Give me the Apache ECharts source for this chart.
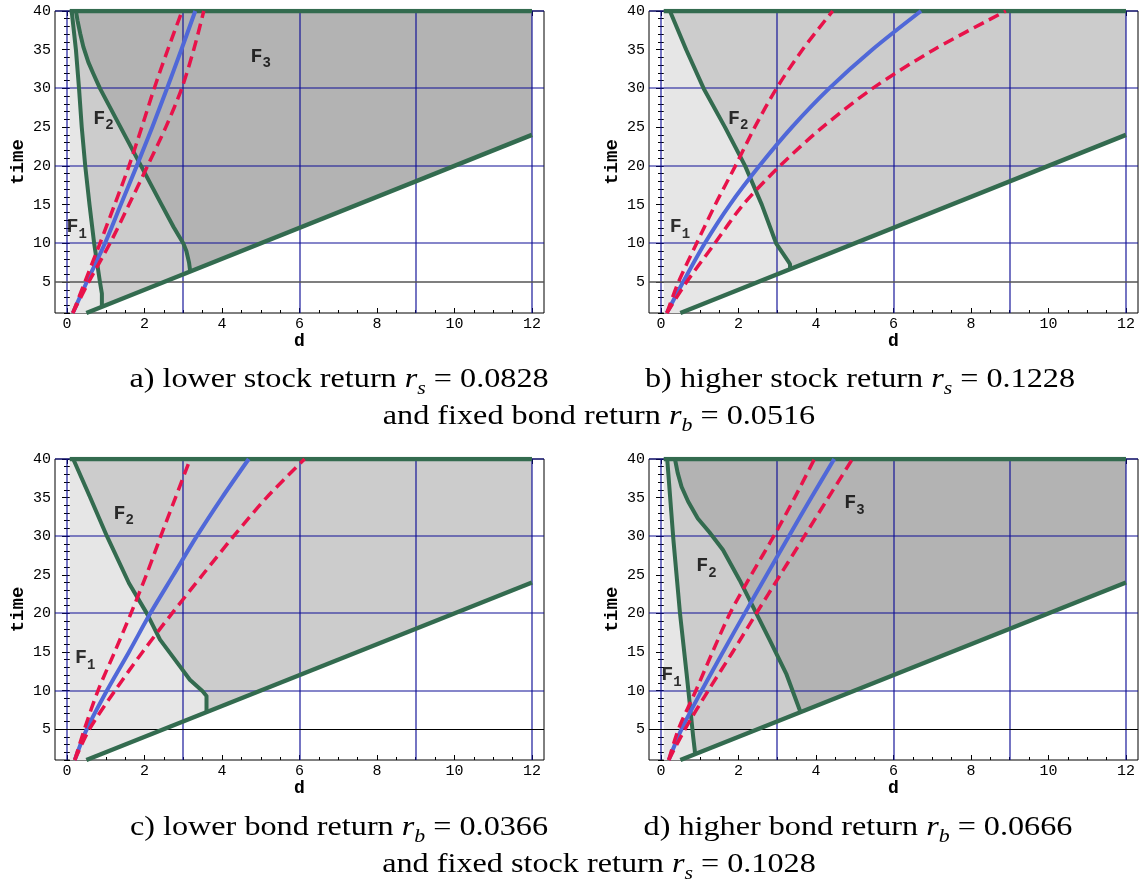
<!DOCTYPE html>
<html>
<head>
<meta charset="utf-8">
<script src="https://cdn.jsdelivr.net/npm/echarts@6/dist/echarts.min.js"></script>
<style>
html,body{margin:0;padding:0;background:#fff;}
#chart{width:1147px;height:882px;}
</style>
</head>
<body>
<div id="chart"></div>
<script>
// ---------------- data ----------------
const X_MIN = -0.31, X_MAX = 12.31, Y_MIN = 1, Y_MAX = 40;
const xTickLabels = [0, 2, 4, 6, 8, 10, 12];
const yTickLabels = [5, 10, 15, 20, 25, 30, 35, 40];
const xMinorTicks = [0,0.5,1,1.5,2,2.5,3,3.5,4,4.5,5,5.5,6,6.5,7,7.5,8,8.5,9,9.5,10,10.5,11,11.5,12];
const yMinorTicks = [1,2,3,4,5,6,7,8,9,10,11,12,13,14,15,16,17,18,19,20,21,22,23,24,25,26,27,28,29,30,31,32,33,34,35,36,37,38,39,40];
const xGridValues = [0, 3, 6, 9, 12];
const yGridValues = [10, 20, 30, 40];
const yMarkLow = 5;

// feasible domain: lower line time = 2d, top at 40, right edge at d = 12
const lowerLine = [[0.5, 1], [12, 24]];
const topLine = [[0.07, 40], [12, 40]];
const domain = [[0.07, 1], [0.07, 40], [12, 40], [12, 24], [0.5, 1]];
const rightCorners = [[12, 40], [12, 24]];

// panel a) rs = 0.0828
const aF12 = [[0.9,1.8],[0.9,3.5],[0.85,5],[0.79,7],[0.7,10],[0.58,15],[0.47,20],[0.38,25],[0.31,30],[0.23,35],[0.12,40]];
const aF23 = [[3.18,6.36],[3.15,7.5],[3.08,9],[3.0,10],[2.88,11],[2.75,12.1],[2.44,15],[1.91,20],[1.38,25],[0.85,30],[0.68,31.9],[0.55,33.4],[0.42,35.4],[0.34,37.1],[0.27,38.8],[0.23,40]];
const aBlue = [[0.15,1],[0.51,5],[0.98,10],[1.39,15],[1.8,20],[2.2,25],[2.58,30],[2.95,35],[3.31,40]];
const aRedL = [[0.15,1],[0.46,5],[0.85,10],[1.23,15],[1.6,20],[1.93,25],[2.25,30],[2.6,35],[2.97,40]];
const aRedR = [[0.15,1],[0.56,5],[1.11,10],[1.6,15],[2.08,20],[2.55,25],[2.96,30],[3.27,35],[3.53,40]];
const aLabels = [['3',5.0,34.1],['2',0.94,26.1],['1',0.25,12.1]];

// panel b) rs = 0.1228
const bF12 = [[3.33,6.66],[3.33,7.3],[3.28,7.7],[2.97,10],[2.6,15],[2.17,20],[1.65,25],[1.1,30],[0.65,35],[0.23,40]];
const bBlue = [[0.15,1],[0.57,5],[1.13,10],[1.78,15],[2.54,20],[3.38,25],[4.34,30],[5.45,35],[6.71,40]];
const bRedL = [[0.15,1],[0.45,5],[0.92,10],[1.4,15],[1.92,20],[2.42,25],[2.98,30],[3.65,35],[4.43,40]];
const bRedR = [[0.15,1],[0.66,5],[1.39,10],[2.12,15],[3.07,20],[4.17,25],[5.46,30],[7.04,35],[8.9,40]];
const bLabels = [['2',1.99,26.1],['1',0.49,12.1]];

// panel c) rb = 0.0366
const cF12 = [[3.6,7.2],[3.6,9.3],[3.5,9.9],[3.17,11.4],[2.92,13.1],[2.4,16.6],[2.06,20],[1.6,23.9],[1.03,30],[0.59,35.1],[0.16,40]];
const cBlue = [[0.2,1],[0.51,5],[1.03,10],[1.6,15],[2.15,20],[2.75,25],[3.35,30],[4.0,35],[4.69,40]];
const cRedL = [[0.2,1],[0.45,5],[0.8,10],[1.23,15],[1.65,20],[2.05,25],[2.42,30],[2.8,35],[3.18,40]];
const cRedR = [[0.2,1],[0.58,5],[1.24,10],[1.95,15],[2.71,20],[3.5,25],[4.3,30],[5.15,35],[6.13,40]];
const cLabels = [['2',1.46,32.9],['1',0.47,14.2]];

// panel d) rb = 0.0666
const dF12 = [[0.88,1.76],[0.87,2.3],[0.83,4],[0.75,7.9],[0.66,12.2],[0.49,20],[0.32,29.5],[0.16,40]];
const dF23 = [[3.6,7.2],[3.57,7.6],[3.23,12.2],[2.8,16.6],[2.46,20],[2.03,24.3],[1.6,28.2],[1.25,30.5],[0.95,32.3],[0.7,34.5],[0.53,36.4],[0.43,38.2],[0.36,40]];
const dBlue = [[0.2,1],[0.53,5],[1.05,10],[1.6,15],[2.16,20],[2.73,25],[3.3,30],[3.88,35],[4.47,40]];
const dRedL = [[0.2,1],[0.45,5],[0.9,10],[1.33,15],[1.78,20],[2.33,25],[2.91,30],[3.45,35],[3.96,40]];
const dRedR = [[0.2,1],[0.62,5],[1.22,10],[1.85,15],[2.46,20],[3.08,25],[3.7,30],[4.32,35],[4.94,40]];
const dLabels = [['3',4.99,34.3],['2',1.17,26.1],['1',0.27,12.0]];

// captions
const captionRow1 = ['a) lower stock return ', 's', ' = 0.0828', 'b) higher stock return ', 's', ' = 0.1228', 'and fixed bond return ', 'b', ' = 0.0516'];
const captionRow2 = ['c) lower bond return ', 'b', ' = 0.0366', 'd) higher bond return ', 'b', ' = 0.0666', 'and fixed stock return ', 's', ' = 0.1028'];

// ---------------- build ----------------
const panels = [
  {f12:aF12, f23:aF23, blue:aBlue, redL:aRedL, redR:aRedR, labels:aLabels, lowColor:'#555555', lowWidth:1.4, lowCrisp:false},
  {f12:bF12, f23:null, blue:bBlue, redL:bRedL, redR:bRedR, labels:bLabels, lowColor:'#555555', lowWidth:1.4, lowCrisp:false},
  {f12:cF12, f23:null, blue:cBlue, redL:cRedL, redR:cRedR, labels:cLabels, lowColor:'#000000', lowWidth:1, lowCrisp:true},
  {f12:dF12, f23:dF23, blue:dBlue, redL:dRedL, redR:dRedR, labels:dLabels, lowColor:'#000000', lowWidth:1, lowCrisp:true}
];
const gridBoxes = [
  {left:55, top:11, width:489, height:302},
  {left:649, top:11, width:489, height:302},
  {left:55, top:459, width:489, height:301},
  {left:649, top:459, width:489, height:301}
];

const C_F1 = '#e6e6e6', C_F2 = '#cccccc', C_F3 = '#b3b3b3';
const C_GREEN = '#336b4f', C_BLUE = '#5068d8', C_RED = '#e8124a', C_NAVY = '#0e0e96';
const MONO = '"Liberation Mono", "DejaVu Sans Mono", monospace';
const SERIF = '"Liberation Serif", "DejaVu Serif", serif';

const grid = [], xAxis = [], yAxis = [], series = [];

gridBoxes.forEach((g, i) => {
  grid.push(Object.assign({show:true, borderColor:'#000', borderWidth:1, backgroundColor:'transparent', containLabel:false}, g));
  const baseX = {gridIndex:i, type:'value', min:X_MIN, max:X_MAX, axisLine:{show:false}, splitLine:{show:false}, splitArea:{show:false}};
  const baseY = {gridIndex:i, type:'value', min:Y_MIN, max:Y_MAX, axisLine:{show:false}, splitLine:{show:false}, splitArea:{show:false}};
  xAxis.push(Object.assign({}, baseX, {position:'bottom',
    axisTick:{show:true, inside:true, length:5, customValues:xTickLabels, lineStyle:{color:'#000'}},
    axisLabel:{show:true, customValues:xTickLabels, fontFamily:MONO, fontSize:15, color:'#000', margin:4},
    name:'d', nameLocation:'middle', nameGap:18,
    nameTextStyle:{fontFamily:MONO, fontWeight:'bold', fontSize:18, color:'#000'}}));
  xAxis.push(Object.assign({}, baseX, {position:'bottom',
    axisTick:{show:true, inside:true, length:3, customValues:xMinorTicks, lineStyle:{color:'#000'}},
    axisLabel:{show:false}}));
  xAxis.push(Object.assign({}, baseX, {position:'top',
    axisTick:{show:true, inside:true, length:5, customValues:xTickLabels, lineStyle:{color:'#000'}},
    axisLabel:{show:false}}));
  xAxis.push(Object.assign({}, baseX, {position:'top',
    axisTick:{show:true, inside:true, length:3, customValues:xMinorTicks, lineStyle:{color:'#000'}},
    axisLabel:{show:false}}));
  yAxis.push(Object.assign({}, baseY, {position:'left',
    axisTick:{show:true, inside:true, length:5, customValues:yTickLabels, lineStyle:{color:'#000'}},
    axisLabel:{show:true, customValues:yTickLabels, fontFamily:MONO, fontSize:15, color:'#000', margin:4},
    name:'time', nameLocation:'middle', nameGap:27,
    nameTextStyle:{fontFamily:MONO, fontWeight:'bold', fontSize:19, color:'#000'}}));
  yAxis.push(Object.assign({}, baseY, {position:'left',
    axisTick:{show:true, inside:true, length:3, customValues:yMinorTicks, lineStyle:{color:'#000'}},
    axisLabel:{show:false}}));
  yAxis.push(Object.assign({}, baseY, {position:'right',
    axisTick:{show:true, inside:true, length:5, customValues:yTickLabels, lineStyle:{color:'#000'}},
    axisLabel:{show:false}}));
  yAxis.push(Object.assign({}, baseY, {position:'right',
    axisTick:{show:true, inside:true, length:3, customValues:yMinorTicks, lineStyle:{color:'#000'}},
    axisLabel:{show:false}}));

  const p = panels[i];
  const xi = 4*i, yi = 4*i;
  function region(pts, color, z) {
    return {type:'custom', xAxisIndex:xi, yAxisIndex:yi, z:z, silent:true, clip:true,
      data: pts, encode:{x:0, y:1},
      renderItem: function(params, api) {
        if (params.dataIndex !== 0) return null;
        return {type:'polygon', shape:{points: pts.map(pt => api.coord(pt))}, style:{fill:color}};
      }};
  }
  series.push(region(domain, C_F1, 1));
  series.push(region(p.f12.concat(rightCorners), C_F2, 1));
  if (p.f23) series.push(region(p.f23.concat(rightCorners), C_F3, 1));

  // grid lines (vertical at xGridValues, horizontal at yGridValues and yMarkLow)
  const gl = [];
  xGridValues.forEach(v => gl.push(['v', v, C_NAVY, 1.15, false]));
  yGridValues.forEach(v => gl.push(['h', v, C_NAVY, 1.15, false]));
  gl.push(['h', yMarkLow, p.lowColor, p.lowWidth, p.lowCrisp]);
  series.push({type:'custom', xAxisIndex:xi, yAxisIndex:yi, z:2, silent:true, clip:false,
    data: gl.map((d, k) => [k]),
    renderItem: function(params, api) {
      const d = gl[params.dataIndex];
      const snap = v => d[4] ? Math.round(v - 0.5) + 0.5 : Math.round(v);
      let a, b;
      if (d[0] === 'v') { a = api.coord([d[1], Y_MIN]); b = api.coord([d[1], Y_MAX]); a[0] = b[0] = snap(a[0]); }
      else { a = api.coord([X_MIN, d[1]]); b = api.coord([X_MAX, d[1]]); a[1] = b[1] = snap(a[1]); }
      return {type:'line', shape:{x1:a[0], y1:a[1], x2:b[0], y2:b[1]}, style:{stroke:d[2], lineWidth:d[3]}};
    }});

  function line(pts, color, width, dash, z, smooth) {
    return {type:'line', xAxisIndex:xi, yAxisIndex:yi, z:z, data:pts, showSymbol:false, symbol:'none',
      smooth:smooth, silent:true,
      lineStyle:{color:color, width:width, type: dash ? [11, 6] : 'solid', cap:'butt', join:'round'}};
  }
  series.push(line(lowerLine, C_GREEN, 4.5, false, 3, false));
  series.push(line(topLine, C_GREEN, 4.5, false, 3, false));
  series.push(line(p.f12, C_GREEN, 4, false, 3, false));
  if (p.f23) series.push(line(p.f23, C_GREEN, 4, false, 3, false));
  series.push(line(p.blue, C_BLUE, 4, false, 4, 0.3));
  series.push(line(p.redL, C_RED, 3.5, true, 5, 0.3));
  series.push(line(p.redR, C_RED, 3.5, true, 5, 0.3));

  series.push({type:'scatter', xAxisIndex:xi, yAxisIndex:yi, z:6, silent:true, symbolSize:0,
    data: p.labels.map(l => ({value:[l[1], l[2]], name:l[0]})),
    label:{show:true, position:'inside',
      formatter: prm => '{f|F}{s|' + prm.name + '}',
      rich:{
        f:{fontFamily:MONO, fontWeight:'bold', fontSize:20, color:'#000', lineHeight:28, verticalAlign:'middle'},
        s:{fontFamily:MONO, fontWeight:'bold', fontSize:14, color:'#000', lineHeight:28, verticalAlign:'bottom'}
      }}});
});

function caption(parts, cx, cy) {
  const text = '{t|' + parts[0] + '}{i|r}{sub|' + parts[1] + '}{t|' + parts[2] + '}';
  return {type:'text', x:cx, y:cy, scaleX:1.15, silent:true, style:{
    text:text, align:'center', verticalAlign:'middle',
    rich:{
      t:{fontFamily:SERIF, fontSize:28, fill:'#000', lineHeight:36, verticalAlign:'middle'},
      i:{fontFamily:SERIF, fontStyle:'italic', fontSize:28, fill:'#000', lineHeight:36, verticalAlign:'middle'},
      sub:{fontFamily:SERIF, fontStyle:'italic', fontSize:19, fill:'#000', lineHeight:36, verticalAlign:'bottom'}
    }}};
}
const graphic = [
  caption(captionRow1.slice(0,3), 339, 380),
  caption(captionRow1.slice(3,6), 860, 380),
  caption(captionRow1.slice(6,9), 599, 417),
  caption(captionRow2.slice(0,3), 339, 828),
  caption(captionRow2.slice(3,6), 858, 828),
  caption(captionRow2.slice(6,9), 599, 865)
];

const chart = echarts.init(document.getElementById('chart'), null, {renderer:'canvas'});
chart.setOption({animation:false, backgroundColor:'#ffffff', grid:grid, xAxis:xAxis, yAxis:yAxis, series:series, graphic:graphic});
</script>
</body>
</html>
